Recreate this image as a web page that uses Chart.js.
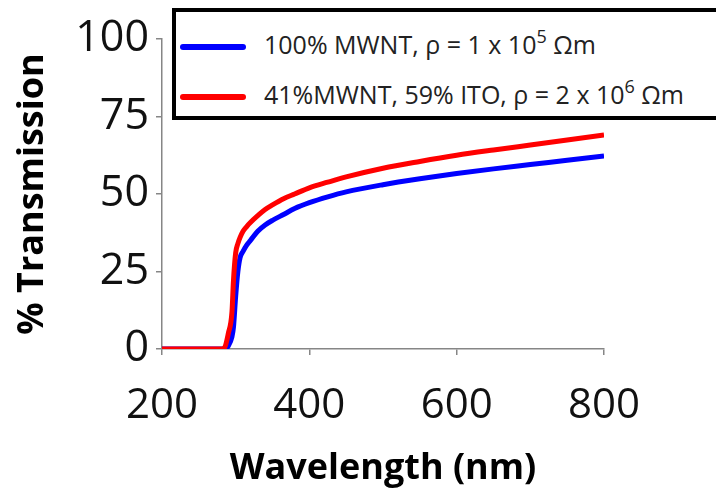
<!DOCTYPE html>
<html>
<head>
<meta charset="utf-8">
<script src="https://cdn.jsdelivr.net/npm/chart.js@4"></script>
<style>
  body { margin: 0; background: #fff; }
  #wrap { position: relative; width: 716px; height: 493px; overflow: hidden; }
  #key {
    position: absolute; left: 172px; top: 8px; width: 600px; height: 104px;
    border: 4px solid #000; background: #fff;
    font-family: "Open Sans", sans-serif; font-size: 25px; color: #222;
  }
  .row { position: absolute; left: 4px; height: 30px; line-height: 30px; white-space: nowrap; }
  .swatch { display: inline-block; width: 66px; height: 6px; border-radius: 3px; vertical-align: middle; margin-right: 18px; }
  .row sup { font-size: 18px; vertical-align: 0; position: relative; top: -11px; }
</style>
</head>
<body>
<div id="wrap">
  <canvas id="transchart" width="716" height="493"></canvas>
  <div id="key"></div>
</div>
<script>
// wavelength grid (nm)
const wavelength = [200, 280, 285, 290, 295, 297, 300, 303, 306, 310, 315, 320, 330, 340, 350, 365, 380, 400, 425, 450, 500, 550, 600, 650, 700, 750, 800];

// % transmission, pure MWNT film
const mwnt = [0, 0, 0, 1, 4, 7, 17, 25, 29.5, 31.5, 33.5, 35, 38, 40, 41.5, 43.4, 45.3, 47.2, 49.1, 50.7, 53.0, 54.9, 56.6, 58.1, 59.5, 60.9, 62.3];

// % transmission, MWNT / ITO film
const mwntIto = [0, 0, 0.5, 5, 12, 22, 31, 34, 36, 38, 39.5, 40.8, 43, 45, 46.5, 48.5, 50, 52, 53.8, 55.5, 58.3, 60.5, 62.5, 64.2, 65.8, 67.4, 69];

const seriesNames = ['100% MWNT, ρ = 1 x 10|5| Ωm', '41%MWNT, 59% ITO, ρ = 2 x 10|6| Ωm'];
const seriesColors = ['#0000ff', '#ff0000'];
const xTicks = [200, 400, 600, 800];
const yTicks = [0, 25, 50, 75, 100];

const axisGray = '#868686';

function toPoints(xs, ys) {
  return xs.map((x, i) => ({ x: x, y: ys[i] }));
}

// legend box
const key = document.getElementById('key');
seriesNames.forEach((name, i) => {
  const parts = name.split('|');
  const row = document.createElement('div');
  row.className = 'row';
  row.style.top = (i === 0 ? 17 : 67) + 'px';
  row.innerHTML = '<span class="swatch" style="background:' + seriesColors[i] + '"></span>' +
    parts[0] + '<sup>' + parts[1] + '</sup>' + parts[2];
  key.appendChild(row);
});

const ctx = document.getElementById('transchart');

new Chart(ctx, {
  type: 'line',
  data: {
    datasets: [
      {
        label: seriesNames[0],
        data: toPoints(wavelength, mwnt),
        borderColor: seriesColors[0],
        borderWidth: 5,
        pointRadius: 0,
        cubicInterpolationMode: 'monotone',
        order: 1
      },
      {
        label: seriesNames[1],
        data: toPoints(wavelength, mwntIto),
        borderColor: seriesColors[1],
        borderWidth: 5,
        pointRadius: 0,
        cubicInterpolationMode: 'monotone',
        order: 0
      }
    ]
  },
  options: {
    responsive: false,
    animation: false,
    layout: { padding: { left: 0, right: 112, top: 39, bottom: 0 } },
    plugins: { legend: { display: false }, tooltip: { enabled: false } },
    scales: {
      x: {
        type: 'linear',
        min: 200,
        max: 800,
        afterBuildTicks: (axis) => { axis.ticks = xTicks.map(v => ({ value: v })); },
        afterFit: (axis) => { axis.height = 144; },
        grid: { display: true, drawOnChartArea: false, drawTicks: true, tickLength: 6, color: axisGray, lineWidth: 1.5 },
        border: { color: axisGray, width: 1.5 },
        ticks: { color: '#111', padding: 26, font: { family: 'Open Sans', size: 42 }, maxRotation: 0 },
        title: {
          display: true,
          text: 'Wavelength (nm)',
          color: '#000',
          font: { family: 'Open Sans', size: 36, weight: 'bold' },
          padding: { top: 0, bottom: 3 }
        }
      },
      y: {
        min: 0,
        max: 100,
        afterBuildTicks: (axis) => { axis.ticks = yTicks.map(v => ({ value: v })); },
        afterFit: (axis) => { axis.width = 162; },
        grid: { display: true, drawOnChartArea: false, drawTicks: true, tickLength: 6, color: axisGray, lineWidth: 1.5 },
        border: { color: axisGray, width: 1.5 },
        ticks: { color: '#111', padding: 7, font: { family: 'Open Sans', size: 43 } },
        title: {
          display: true,
          text: '% Transmission',
          color: '#000',
          font: { family: 'Open Sans', size: 36, weight: 'bold' },
          padding: { top: 11, bottom: 0 }
        }
      }
    }
  }
});
</script>
</body>
</html>
